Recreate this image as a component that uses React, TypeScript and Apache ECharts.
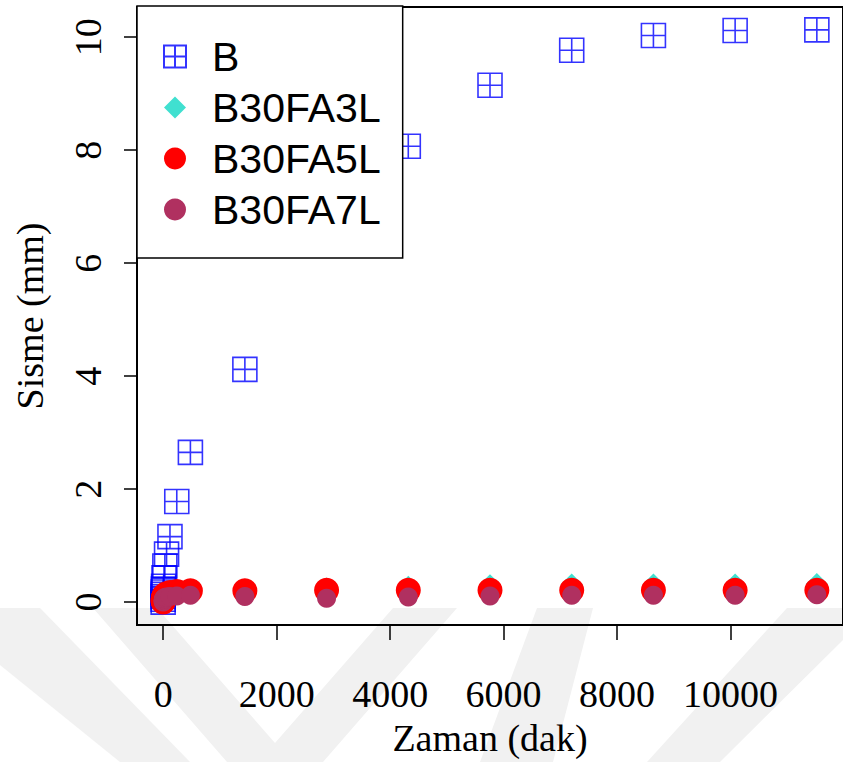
import React, { useEffect, useRef } from "react";
import * as echarts from "echarts";

const times = [0, 0.25, 0.5, 1, 2, 4, 8, 15, 30, 60, 120, 240, 480, 1440, 2880, 4320, 5760, 7200, 8640, 10080, 11520];
const seriesB = [0, 0.05, 0.1, 0.14, 0.18, 0.23, 0.28, 0.43, 0.64, 0.85, 1.16, 1.78, 2.65, 4.12, 6.34, 8.07, 9.15, 9.77, 10.03, 10.12, 10.13];
const seriesFA3 = [0, 0.02, 0.03, 0.04, 0.06, 0.07, 0.09, 0.11, 0.13, 0.15, 0.17, 0.19, 0.2, 0.22, 0.24, 0.27, 0.3, 0.31, 0.31, 0.31, 0.32];
const seriesFA5 = [0, 0.02, 0.03, 0.05, 0.06, 0.07, 0.09, 0.11, 0.13, 0.15, 0.17, 0.19, 0.2, 0.2, 0.21, 0.21, 0.21, 0.21, 0.21, 0.21, 0.21];
const seriesFA7 = [0, 0.01, 0.02, 0.03, 0.04, 0.05, 0.06, 0.07, 0.08, 0.09, 0.1, 0.11, 0.12, 0.1, 0.07, 0.09, 0.11, 0.12, 0.12, 0.12, 0.13];

const xTicks = [0, 2000, 4000, 6000, 8000, 10000];
const yTicks = [0, 2, 4, 6, 8, 10];
const names = ["B", "B30FA3L", "B30FA5L", "B30FA7L"];

const SQ = "path://M0,0L10,0L10,10L0,10Z M5,0L5,10 M0,5L10,5";
const SERIF = "'Liberation Serif', 'Times New Roman', serif";
const SANS = "'Liberation Sans', Arial, sans-serif";

const pairs = (ys: number[]) => times.map((t, i) => [t, ys[i]]);

export default function App() {
  const ref = useRef<HTMLDivElement>(null);
  useEffect(() => {
    if (!ref.current) return;
    const chart = echarts.init(ref.current, null, { renderer: "svg" });
    const wm = "#f1f1f1";
    chart.setOption({
      animation: false,
      backgroundColor: "#ffffff",
      graphic: [
        { type: "polygon", z: -10, silent: true, shape: { points: [[0, 608], [40, 608], [190, 762], [120, 762], [0, 665]] }, style: { fill: wm } },
        { type: "polygon", z: -10, silent: true, shape: { points: [[93, 608], [157, 608], [275, 743], [393, 608], [457, 608], [323, 762], [227, 762]] }, style: { fill: wm } },
        { type: "polygon", z: -10, silent: true, shape: { points: [[537, 608], [593, 608], [553, 762], [480, 762]] }, style: { fill: wm } },
        { type: "polygon", z: -10, silent: true, shape: { points: [[787, 608], [843, 608], [843, 640], [720, 762], [647, 762]] }, style: { fill: wm } },
      ],
      grid: {
        left: 137,
        top: 7,
        width: 716,
        height: 619,
        show: true,
        borderColor: "#000",
        borderWidth: 2,
        backgroundColor: "transparent",
      },
      legend: {
        orient: "vertical",
        left: 137,
        top: 6,
        padding: [30, 22, 28, 26],
        borderColor: "#000",
        borderWidth: 1.5,
        backgroundColor: "#fff",
        itemWidth: 22,
        itemHeight: 22,
        itemGap: 10,
        selectedMode: false,
        textStyle: { fontFamily: SANS, fontSize: 41, color: "#000", lineHeight: 41, padding: [0, 0, 0, 21] },
        data: [
          { name: names[0], icon: SQ },
          { name: names[1], icon: "diamond" },
          { name: names[2], icon: "circle" },
          { name: names[3], icon: "circle" },
        ],
      },
      xAxis: {
        type: "value",
        position: "bottom",
        min: -461,
        max: 11981,
        name: "Zaman (dak)",
        nameLocation: "middle",
        nameGap: 94,
        nameTextStyle: { fontFamily: SERIF, fontSize: 38, color: "#000" },
        axisLine: { show: true, onZero: false, lineStyle: { color: "#000", width: 2 } },
        splitLine: { show: false },
        axisTick: { show: true, inside: false, length: 15, customValues: xTicks, lineStyle: { color: "#000", width: 1.5 } },
        axisLabel: {
          customValues: xTicks,
          formatter: (v: number) => String(v),
          fontFamily: SERIF,
          fontSize: 38,
          color: "#000",
          margin: 50,
        },
      },
      yAxis: {
        type: "value",
        position: "left",
        min: -0.405,
        max: 10.535,
        name: "Sisme (mm)",
        nameLocation: "middle",
        nameRotate: 90,
        nameGap: 88,
        nameTextStyle: { fontFamily: SERIF, fontSize: 38, color: "#000" },
        axisLine: { show: true, onZero: false, lineStyle: { color: "#000", width: 2 } },
        splitLine: { show: false },
        axisTick: { show: true, inside: false, length: 13, customValues: yTicks, lineStyle: { color: "#000", width: 1.5 } },
        axisLabel: {
          customValues: yTicks,
          formatter: (v: number) => String(v),
          rotate: 90,
          fontFamily: SERIF,
          fontSize: 38,
          color: "#000",
          margin: 30,
        },
      },
      series: [
        {
          name: names[0],
          type: "scatter",
          symbol: SQ,
          symbolSize: 24,
          data: pairs(seriesB),
          itemStyle: { color: "rgba(0,0,0,0)", borderColor: "#0000FF", borderWidth: 1.6 },
          silent: true,
          z: 2,
        },
        {
          name: names[1],
          type: "scatter",
          symbol: "diamond",
          symbolSize: 22,
          data: pairs(seriesFA3),
          itemStyle: { color: "#40E0D0", opacity: 1 },
          silent: true,
          z: 3,
        },
        {
          name: names[2],
          type: "scatter",
          symbol: "circle",
          symbolSize: 25,
          data: pairs(seriesFA5),
          itemStyle: { color: "#FF0000", opacity: 1 },
          silent: true,
          z: 4,
        },
        {
          name: names[3],
          type: "scatter",
          symbol: "circle",
          symbolSize: 19,
          data: pairs(seriesFA7),
          itemStyle: { color: "#B03060", opacity: 1 },
          silent: true,
          z: 5,
        },
      ],
    });
    return () => chart.dispose();
  }, []);
  return <div ref={ref} style={{ width: 843, height: 762, position: "absolute", left: 0, top: 0 }} />;
}
